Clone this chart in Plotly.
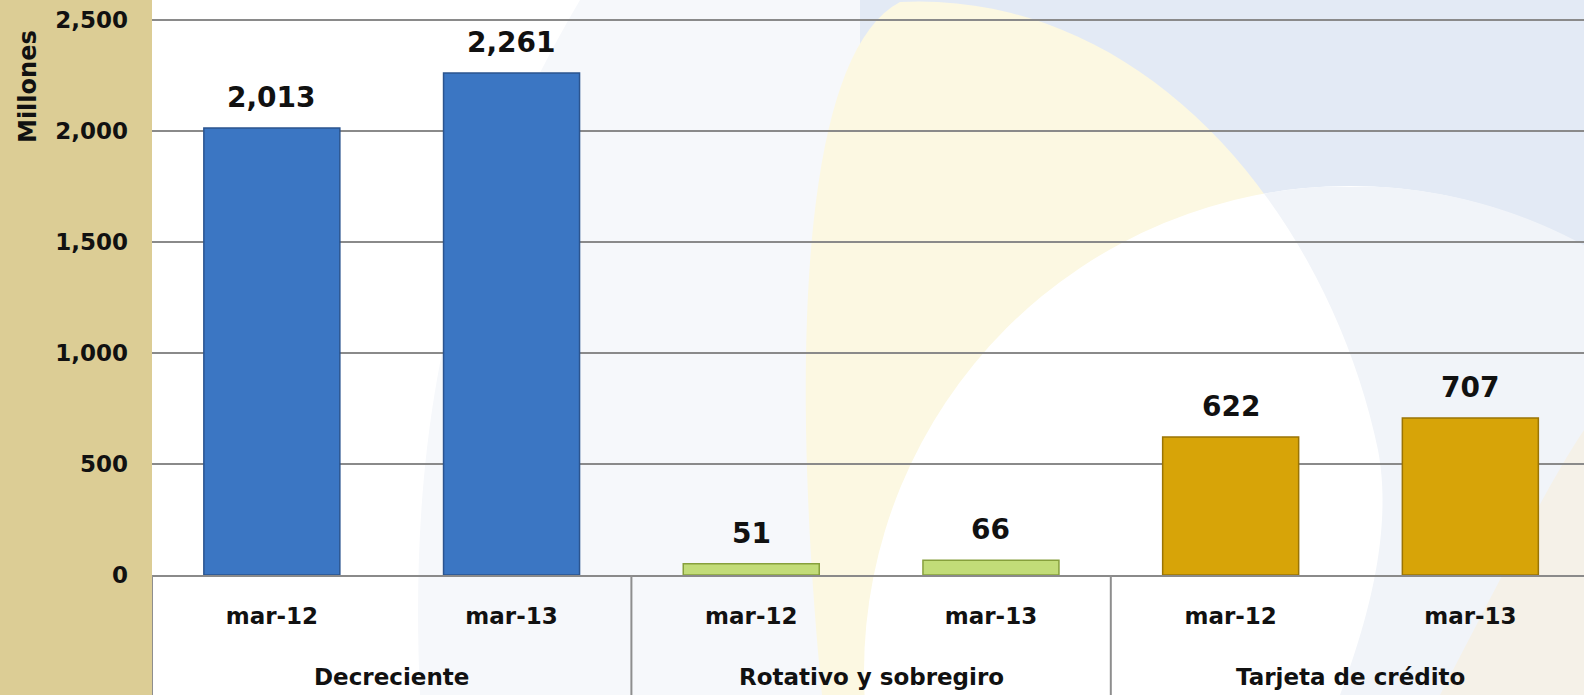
import numpy as np
import plotly.graph_objects as go

groups = ["Decreciente", "Decreciente", "Rotativo y sobregiro", "Rotativo y sobregiro",
          "Tarjeta de crédito", "Tarjeta de crédito"]
periods = ["mar-12", "mar-13", "mar-12", "mar-13", "mar-12", "mar-13"]
values = [2013, 2261, 51, 66, 622, 707]
bar_colors = ["#3b76c3", "#3b76c3", "#c2dc78", "#c2dc78", "#d7a408", "#d7a408"]
edge_colors = ["#2b548f", "#2b548f", "#87a03c", "#87a03c", "#9a7405", "#9a7405"]
y_ticks = [0, 500, 1000, 1500, 2000, 2500]

FONT = "DejaVu Sans"
W, H = 1584, 695
L, R, T, B = 152, 0, 0, 120
PW, PH = W - L - R, H - T - B

idx = list(range(len(values)))
group_names = list(dict.fromkeys(groups))
group_idx = [[i for i in idx if groups[i] == g] for g in group_names]


def px(x):
    return (x - L) / PW


def py(y):
    return (T + PH - y) / PH


def bez(p0, p1, p2, p3, n=40):
    t = np.linspace(0, 1, n)[:, None]
    p0, p1, p2, p3 = map(np.array, (p0, p1, p2, p3))
    return ((1 - t) ** 3) * p0 + 3 * ((1 - t) ** 2) * t * p1 + 3 * (1 - t) * t ** 2 * p2 + t ** 3 * p3


def poly_path(pts):
    s = " L ".join(f"{px(x):.5f},{py(y):.5f}" for x, y in pts)
    return "M " + s + " Z"


# decorative background geometry (pixels)
petal_right = np.vstack([bez((900, 2), (1150, -10), (1330, 220), (1378, 450)),
                         bez((1378, 450), (1395, 540), (1360, 640), (1340, H))])
petal_left = np.vstack([bez((822, H), (795, 420), (790, 60), (900, 2))])
petal = np.vstack([petal_left, petal_right])
cx, cy, cr = 1350, 672, 486

ys = np.arange(150, H + 1, 1.0)
order = np.argsort(petal_right[:, 1])
pr_x = np.interp(ys, petal_right[order, 1], petal_right[order, 0])
dx = np.sqrt(np.clip(cr ** 2 - (ys - cy) ** 2, 0, None))
inside = (cr ** 2 - (ys - cy) ** 2) > 0
x_left = np.maximum(pr_x, cx - dx)
x_right = np.minimum(cx + dx + 1.5, W + 2)
ok = inside & (x_left < x_right)
cres = [(xl, y) for xl, y in zip(x_left[ok], ys[ok])] + \
       [(xr, y) for xr, y in zip(x_right[ok][::-1], ys[ok][::-1])]

fig = go.Figure()
fig.add_trace(go.Bar(
    x=idx, y=values,
    marker=dict(color=bar_colors, line=dict(color=edge_colors, width=1.5)),
    showlegend=False, hoverinfo="x+y",
))

shapes = []
shapes.append(dict(type="rect", xref="paper", yref="paper", x0=px(0), x1=px(L), y0=py(H), y1=py(0),
                   fillcolor="#dccd95", line=dict(width=0), layer="below"))
shapes.append(dict(type="rect", xref="paper", yref="paper", x0=px(840), x1=px(W), y0=py(420), y1=py(0),
                   fillcolor="#e3eaf5", line=dict(width=0), layer="below"))
shapes.append(dict(type="path", xref="paper", yref="paper",
                   path=f"M {px(420)},{py(H)} C {px(408)},{py(430)} {px(450)},{py(220)} {px(580)},{py(0)} "
                        f"L {px(860)},{py(0)} L {px(860)},{py(H)} Z",
                   fillcolor="#f6f8fb", line=dict(width=0), layer="below"))
shapes.append(dict(type="path", xref="paper", yref="paper", path=poly_path(petal),
                   fillcolor="#fcf8e2", line=dict(width=0), layer="below"))
shapes.append(dict(type="circle", xref="paper", yref="paper",
                   x0=px(cx - cr), x1=px(cx + cr), y0=py(cy + cr), y1=py(cy - cr),
                   fillcolor="#ffffff", line=dict(width=0), layer="below"))
shapes.append(dict(type="path", xref="paper", yref="paper", path=poly_path(cres),
                   fillcolor="#f1f4f9", line=dict(width=0), layer="below"))
shapes.append(dict(type="path", xref="paper", yref="paper",
                   path=f"M {px(1440)},{py(H)} C {px(1500)},{py(580)} {px(1550)},{py(480)} {px(W)},{py(430)} "
                        f"L {px(W)},{py(H)} Z",
                   fillcolor="#f5f1e8", line=dict(width=0), layer="below"))
for gi in group_idx:
    b = gi[0] - 0.5
    shapes.append(dict(type="line", xref="x", yref="paper", x0=b, x1=b, y0=0, y1=py(H),
                       line=dict(color="#8e8e8e", width=2)))

annotations = []
for i, v in zip(idx, values):
    annotations.append(dict(x=i, y=v, xref="x", yref="y", text=f"{v:,}", showarrow=False,
                            yanchor="bottom", yshift=12,
                            font=dict(family=FONT, size=28, color="#111111", weight="bold")))
for g, gi in zip(group_names, group_idx):
    annotations.append(dict(x=sum(gi) / len(gi), y=py(677), xref="x", yref="paper", text=g,
                            showarrow=False, yanchor="middle",
                            font=dict(family=FONT, size=23, color="#111111", weight="bold")))
annotations.append(dict(text="Millones", textangle=-90, xref="paper", yref="paper",
                        x=px(28), y=py(86), xanchor="center", yanchor="middle", showarrow=False,
                        font=dict(family=FONT, size=24, color="#111111", weight="bold")))

slot = 239.7
fig.update_layout(
    width=W, height=H,
    margin=dict(l=L, r=R, t=T, b=B, pad=0),
    paper_bgcolor="#ffffff", plot_bgcolor="rgba(0,0,0,0)",
    bargap=1 - 136 / slot,
    shapes=shapes, annotations=annotations,
    font=dict(family=FONT, color="#111111"),
)
fig.update_yaxes(
    range=[0, 2500 * PH / (PH - 20)], tickvals=y_ticks, tickformat=",",
    showgrid=True, gridcolor="#8a8a8a", gridwidth=2, automargin=False,
    zeroline=False, showline=False, ticks="", ticklabelstandoff=23,
    tickfont=dict(family=FONT, size=23, color="#111111", weight="bold"),
)
fig.update_xaxes(
    range=[-0.5, -0.5 + PW / slot], tickvals=idx, ticktext=periods,
    showline=True, linecolor="#8a8a8a", linewidth=2, automargin=False,
    ticks="", showgrid=False, zeroline=False, ticklabelstandoff=19,
    tickfont=dict(family=FONT, size=23, color="#111111", weight="bold"),
)

fig.write_html("out.html", config={"displayModeBar": False},
               post_script="document.body.style.margin='0';document.body.style.overflow='hidden';")
